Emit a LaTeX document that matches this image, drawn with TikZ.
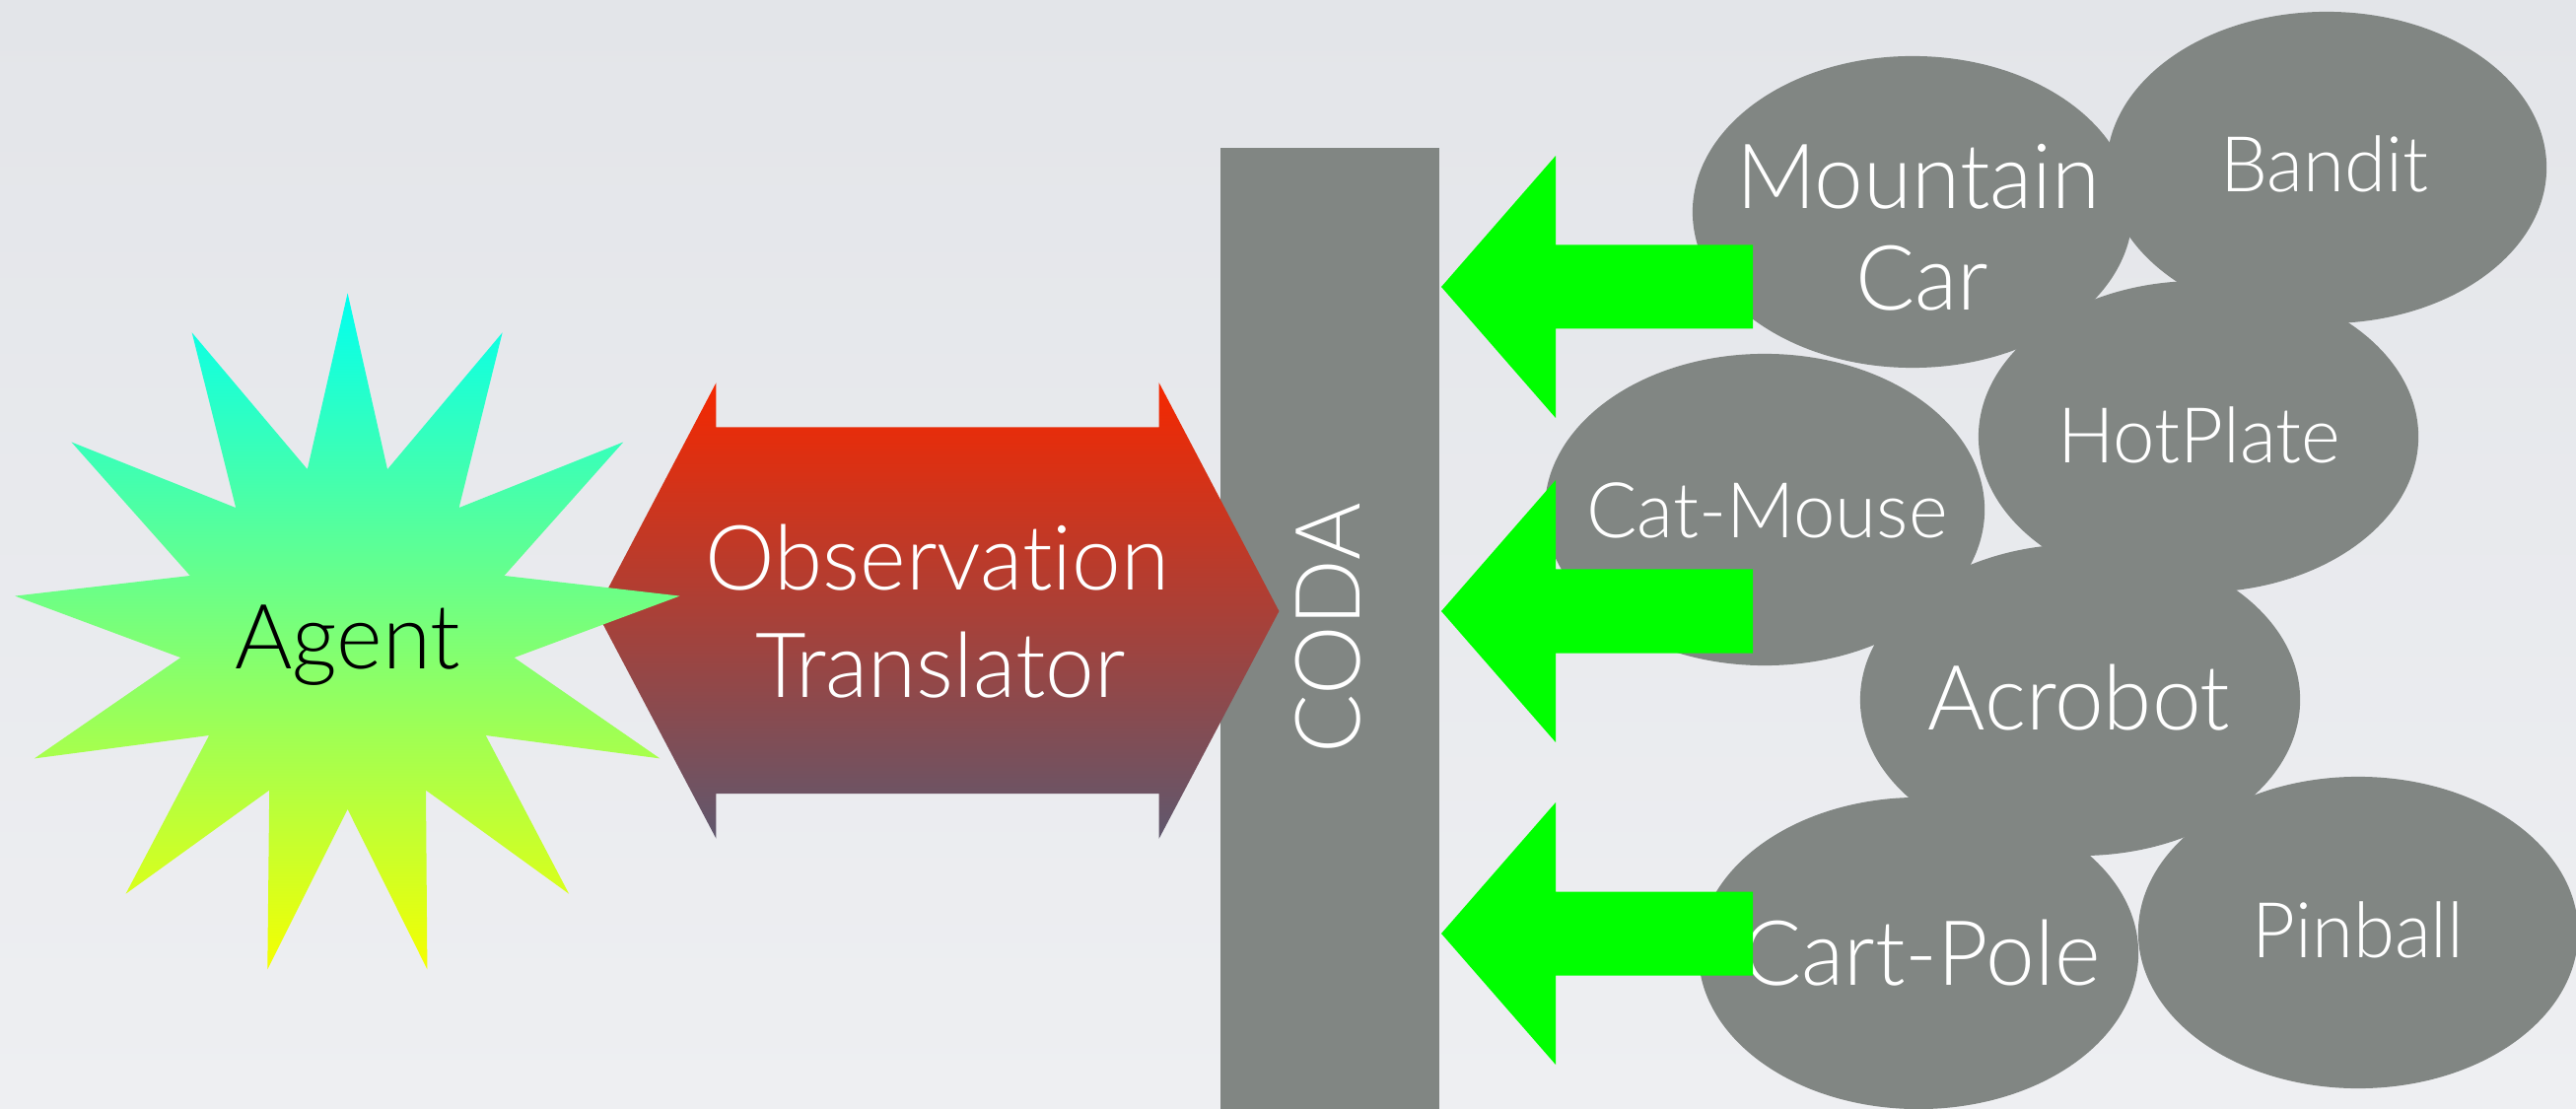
\documentclass[tikz,border=0pt]{standalone}
\usepackage{fontspec}
\setmainfont{Lato}[UprightFont={* Light}, FakeStretch=0.975, Ligatures={NoCommon,NoRare}]
\usetikzlibrary{shapes.geometric}
\definecolor{envgray}{RGB}{129,134,131}
\definecolor{arrgreen}{RGB}{0,255,0}
\definecolor{bgtop}{RGB}{227,229,233}
\definecolor{bgbot}{RGB}{238,239,242}
\definecolor{redtop}{RGB}{245,40,0}
\definecolor{redmid}{RGB}{185,52,55}
\definecolor{redbot}{RGB}{95,88,110}
\definecolor{startop}{RGB}{0,255,240}
\definecolor{starmid}{RGB}{128,255,155}
\definecolor{starbot}{RGB}{245,255,0}
\tikzset{
  bigtxt/.style={font=\fontsize{26pt}{30pt}\selectfont, inner sep=0pt, anchor=base},
  smalltxt/.style={font=\fontsize{22.2pt}{26pt}\selectfont, inner sep=0pt, anchor=base},
  envell/.style={ellipse, fill=envgray, draw=none, minimum width=4.46cm, minimum height=3.16cm, inner sep=0pt},
  greenarrow/.style={fill=arrgreen, draw=none},
}
\begin{document}
\begin{tikzpicture}[x=0.01cm,y=-0.01cm]
\useasboundingbox (0,0) rectangle (2613,1125);
\begin{scope}
\clip (0,0) rectangle (2613,1125);
\shade[top color=bgtop, bottom color=bgbot] (0,0) rectangle (2613,1125);

% CODA bar
\fill[envgray] (1238,150) rectangle (1460,1130);
\node[bigtxt, anchor=center, rotate=90, text=white] (coda) at (1346.7,637.7) {CODA};

% Observation translator double arrow
\shade[top color=redtop, middle color=redmid, bottom color=redbot]
  (604.7,620) -- (726.4,388.3) -- (726.4,433.3) -- (1175.7,433.3) -- (1175.7,388.3)
  -- (1297.4,620) -- (1175.7,850.7) -- (1175.7,805) -- (726.4,805) -- (726.4,850.7) -- cycle;
\node[bigtxt, text=white] (obs1) at (951,598.3) {Observation};
\node[bigtxt, text=white] (obs2) at (954,707.7) {Translator};

% Agent star
\shade[top color=startop, middle color=starmid, bottom color=starbot]
  (352.6,297.4) -- (393.0,476.1) -- (509.6,337.4) -- (465.6,515.1) -- (632.2,448.5)
  -- (511.5,584.0) -- (689.6,604.6) -- (521.6,667.1) -- (669.4,769.4) -- (492.7,746.0)
  -- (577.1,906.7) -- (432.0,801.6) -- (433.4,983.4) -- (352.6,820.9) -- (271.3,983.4)
  -- (273.2,801.6) -- (127.6,906.7) -- (212.1,746.0) -- (34.9,769.4) -- (183.2,667.1)
  -- (15.2,604.6) -- (192.8,584.0) -- (72.5,448.5) -- (239.2,515.1) -- (194.7,337.4)
  -- (311.8,476.1) -- cycle;
\node[bigtxt, text=black] (agent) at (352.8,678) {Agent};

% environment ellipses
\node[envell] (mcE) at (1940,215) {};
\node[envell] (banditE) at (2360,170) {};
\node[envell] (hotE) at (2230,443) {};
\node[envell] (catE) at (1790,517) {};
\node[envell] (acroE) at (2110,710) {};
\node[envell] (cartE) at (1946,967) {};
\node[envell] (pinE) at (2392,946) {};

\node[bigtxt, text=white] (mc1) at (1946,211.7) {Mountain};
\node[bigtxt, text=white] (mc2) at (1950,315) {Car};
\node[smalltxt, text=white] (bandit) at (2357.7,195) {Bandit};
\node[smalltxt, text=white] (hot) at (2231,470) {HotPlate};
\node[smalltxt, text=white] (cat) at (1792.5,545) {Cat-Mouse};
\node[bigtxt, text=white] (acro) at (2109,740) {Acrobot};
\node[bigtxt, text=white] (cart) at (1949,999) {Cart-Pole};
\node[smalltxt, text=white] (pin) at (2392,971.7) {Pinball};

% green arrows
\foreach \yc/\nm in {291/ga1, 620/ga2, 947/ga3}{
  \fill[greenarrow] (1462,\yc) -- (1578,\yc-133) -- (1578,\yc-42.5) -- (1778,\yc-42.5)
    -- (1778,\yc+42.5) -- (1578,\yc+42.5) -- (1578,\yc+133) -- cycle;
  \coordinate (\nm) at (1462,\yc);
}
\end{scope}
\end{tikzpicture}
\end{document}
